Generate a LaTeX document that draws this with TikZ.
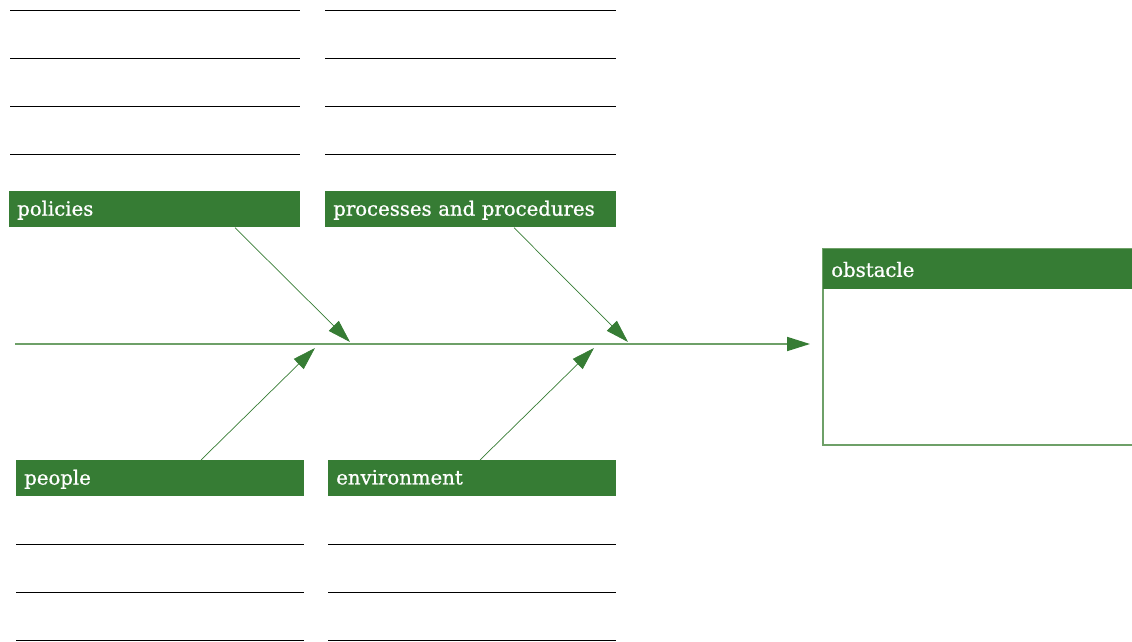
\documentclass[tikz,border=0pt]{standalone}
\usepackage{fontspec}
\setmainfont{DejaVu Serif}
\newfontfamily\boxfont[FakeBold=0.8]{DejaVu Serif}
\usetikzlibrary{arrows.meta, positioning, calc}
\definecolor{fishgreen}{RGB}{54,124,52}
\definecolor{spinegreen}{RGB}{110,160,104}

\tikzset{
  catbox/.style={fill=fishgreen, text=white, anchor=north west, inner xsep=4.5pt,
    minimum height=36*0.02cm, text depth=0.25ex, font=\boxfont\fontsize{11.2}{13}\selectfont},
  cause/.style={fishgreen, -{Triangle[length=13pt,width=8pt]}},
  writeline/.style={black, line width=0.45pt}
}

\begin{document}
\begin{tikzpicture}[x=0.02cm, y=-0.02cm]
  \useasboundingbox (0,0) rectangle (1132,642);

  % writing lines above and below the categories
  \foreach \y in {10,58,106,154} {
    \draw[writeline] (10,\y) -- (300,\y);
    \draw[writeline] (325,\y) -- (616,\y);
  }
  \foreach \y in {544,592,640} {
    \draw[writeline] (16,\y) -- (304,\y);
    \draw[writeline] (328,\y) -- (616,\y);
  }

  % categories
  \node[catbox, minimum width=291*0.02cm, text width=291*0.02cm-9pt] (policies) at (9,191) {policies};
  \node[catbox, minimum width=291*0.02cm, text width=291*0.02cm-9pt] (procs) at (325,191) {processes and procedures};
  \node[catbox, minimum width=288*0.02cm, text width=288*0.02cm-9pt] (people) at (16,460) {people};
  \node[catbox, minimum width=288*0.02cm, text width=288*0.02cm-9pt] (envir) at (328,460) {environment};

  % obstacle box
  \draw[spinegreen, line width=0.8pt] (823,249) rectangle (1140,445);
  \node[catbox, minimum width=317*0.02cm, minimum height=40*0.02cm, text width=317*0.02cm-9pt,
    text depth=0pt] (obstacle) at (823,249) {obstacle};

  % spine
  \coordinate (tail) at (15,344);
  \coordinate (head) at (810,344);
  \coordinate (j1) at (350,342);
  \coordinate (j2) at (628,342);
  \coordinate (j3) at (315,348);
  \coordinate (j4) at (594,348);
  \draw[spinegreen, line width=0.8pt, -{Triangle[length=13pt,width=8pt,fill=fishgreen,color=fishgreen]}] (tail) -- (head);

  \draw[cause] ($(policies.south west)+(226,0)$) -- (j1);
  \draw[cause] ($(procs.south west)+(189,0)$) -- (j2);
  \draw[cause] ($(people.north west)+(185,0)$) -- (j3);
  \draw[cause] ($(envir.north west)+(152,0)$) -- (j4);
\end{tikzpicture}
\end{document}
